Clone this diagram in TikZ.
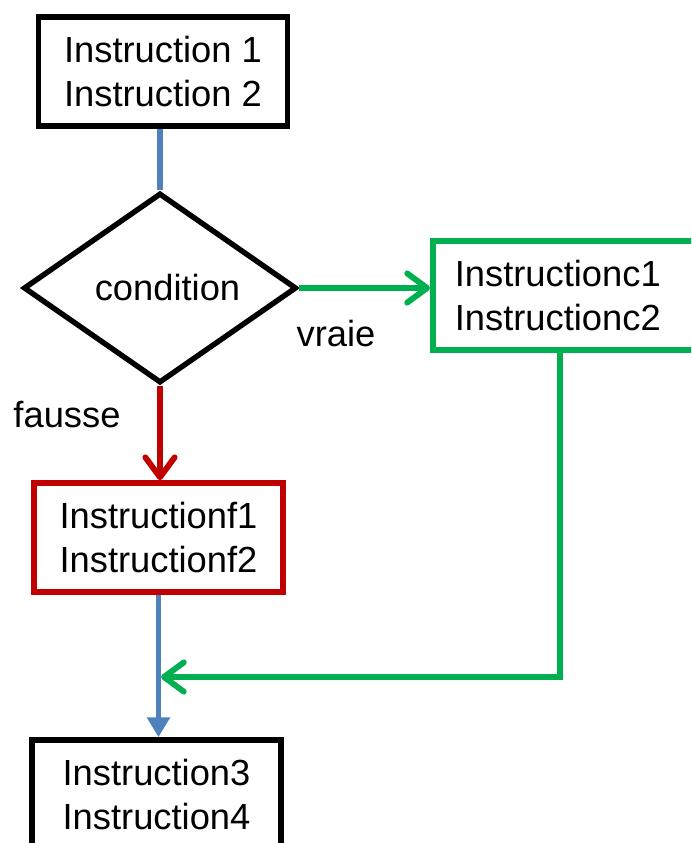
\documentclass[tikz,border=0pt]{standalone}
\usepackage{fontspec}
\setmainfont{Liberation Sans}
\usetikzlibrary{arrows.meta,positioning,calc,shapes.geometric}
\definecolor{cfBlue}{HTML}{4F81BD}
\definecolor{cfGreen}{HTML}{00B050}
\definecolor{cfRed}{HTML}{C00000}

\begin{document}
\begin{tikzpicture}[x=0.03cm,y=-0.03cm,every node/.style={font=\fontsize{31}{37.5}\selectfont},
  instr/.style={draw,line width=4.8pt,align=center,minimum width=7.47cm,minimum height=3.27cm,inner sep=0pt},
  link/.style={line width=5pt},
  barb/.style={-{Straight Barb[length=17pt,width=25pt,round]}}]
  \clip (0,0) rectangle (691,843);
  % blocks
  \node[instr] (top) at (163,71.5) {Instruction 1\\Instruction 2};
  \node[draw,diamond,line width=4.6pt,minimum width=8.19cm,minimum height=5.7cm,inner sep=0pt] (cond) at (160,288) {\hspace{0.45cm}condition};
  \node[instr,draw=cfGreen,anchor=west,align=left,text width=7.5cm,inner xsep=0.66cm,minimum width=0pt] (ctrue) at (430,295.5) {Instructionc1\\Instructionc2};
  \node[instr,draw=cfRed] (cfalse) at (158.5,537.5) {Instructionf1\\Instructionf2};
  \node[instr] (next) at (156.5,794.5) {Instruction3\\Instruction4};
  \node (vraie) at (336,334) {vraie};
  \node (fausse) at (67,415) {fausse};
  \coordinate (back) at (560,677);
  % links
  \draw[link,cfBlue] (cond.north |- top.south) -- (cond.north);
  \draw[link,cfGreen,barb] (cond.east) -- (cond.east -| ctrue.west);
  \draw[link,cfRed,barb] (cond.south) -- (cond.south |- cfalse.north);
  \draw[link,cfBlue,-{Triangle[length=17pt,width=19pt]}] (cfalse.south) -- (cfalse.south |- next.north);
  \draw[link,cfGreen,barb] (back |- ctrue.south) -- (back) -- ($(back -| cfalse.south)+(2.5,0)$);
\end{tikzpicture}
\end{document}
